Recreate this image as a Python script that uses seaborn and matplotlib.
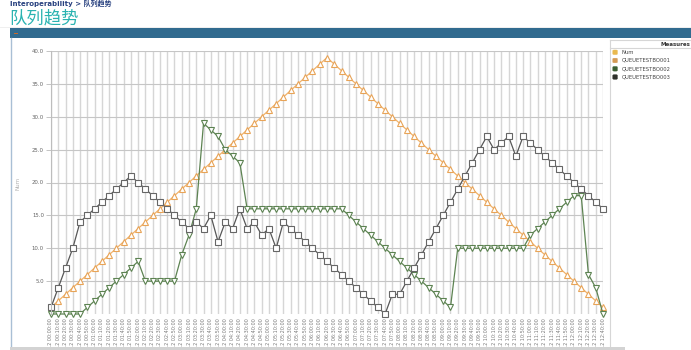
import matplotlib
matplotlib.use("Agg")
import matplotlib.pyplot as plt
import seaborn as sns
import pandas as pd
from matplotlib.patches import Rectangle, FancyBboxPatch
from matplotlib.lines import Line2D

W, H = 691, 350

# ---------------- data ----------------
n_points = 77
time_labels = [f"12 {(10 * i) // 60:02d}:{(10 * i) % 60:02d}:00" for i in range(n_points)]

q001 = [1, 2, 3, 4, 5, 6, 7, 8, 9, 10, 11, 12, 13, 14, 15, 16, 17, 18, 19, 20,
        21, 22, 23, 24, 25, 26, 27, 28, 29, 30, 31, 32, 33, 34, 35, 36, 37, 38, 39,
        38, 37, 36, 35, 34, 33, 32, 31, 30, 29, 28, 27, 26, 25, 24, 23, 22, 21, 20,
        19, 18, 17, 16, 15, 14, 13, 12, 11, 10, 9, 8, 7, 6, 5, 4, 3, 2, 1]

q002 = [0, 0, 0, 0, 0,
        1, 2, 3, 4, 5, 6, 7, 8,
        5, 5, 5, 5, 5,
        9, 12, 16, 29, 28, 27, 25, 24, 23,
        16, 16, 16, 16, 16, 16, 16, 16, 16, 16, 16, 16, 16, 16,
        15, 14, 13, 12, 11, 10, 9, 8, 7, 6, 5, 4, 3, 2, 1,
        10, 10, 10, 10, 10, 10, 10, 10, 10, 10,
        12, 13, 14, 15, 16, 17, 18, 18,
        6, 4, 0]

q003 = [1, 4, 7, 10, 14, 15, 16, 17, 18, 19, 20, 21, 20, 19, 18, 17, 16, 15, 14, 13, 14, 13, 15, 11,
        14, 13, 16, 13, 14, 12, 13, 10, 14, 13, 12, 11, 10, 9, 8, 7, 6, 5, 4, 3, 2,
        1, 0, 3, 3, 5, 7, 9, 11, 13, 15, 17, 19, 21, 23, 25, 27, 25, 26, 27, 24,
        27, 26, 25, 24, 23, 22, 21, 20, 19, 18, 17, 16]

legend_names = ["Num", "QUEUETESTBO001", "QUEUETESTBO002", "QUEUETESTBO003"]
legend_colors = ["#e9b94f", "#d49a55", "#3c5f33", "#2f312c"]

y_ticks = [5, 10, 15, 20, 25, 30, 35, 40]

# ---------------- figure ----------------
fig = plt.figure(figsize=(W / 100, H / 100), dpi=100)
fig.patch.set_facecolor("white")


def fx(px):
    return px / W


def fy(py):
    return 1 - py / H


# breadcrumb + title
fig.text(fx(10), fy(5.6), "Interoperability > 队列趋势", fontsize=5, color="#27407f",
         fontweight="bold", va="baseline", family=["DejaVu Sans", "Noto Sans CJK SC"])
fig.text(fx(9), fy(18.5), "队列趋势", fontsize=12.5, color="#2ab3b1", va="center",
         family=["Noto Sans CJK SC", "DejaVu Sans"])
fig.add_artist(Line2D([fx(0), fx(691)], [fy(26.5)] * 2, color="#ececec", lw=0.6))

# dark header bar
fig.add_artist(Rectangle((fx(10), fy(38.3)), 1 - fx(10), 10 / H, facecolor="#316b8f",
                         edgecolor="none", transform=fig.transFigure))
fig.add_artist(Rectangle((fx(14), fy(33.8)), 4 / W, 1.3 / H, facecolor="#c86b2c",
                         edgecolor="none", transform=fig.transFigure))
# left border
fig.add_artist(Line2D([fx(10.5)] * 2, [fy(38.3), 0], color="#a9bfd5", lw=1.0))

# ---------------- plot area ----------------
ax = fig.add_axes([fx(51), fy(314), (603 - 51) / W, (314 - 51) / H])
ax.set_facecolor("white")
idx = list(range(n_points))

series = [
    (q001, "#f0b26a", "#e8a458", "^", 5.0),
    (q002, "#5d8352", "#5d8352", "v", 5.0),
    (q003, "#575757", "#666666", "s", 4.0),
]
for vals, lc, mc, mk, ms in series:
    sns.lineplot(x=idx, y=vals, ax=ax, color=lc, linewidth=0.9, marker=mk,
                 markersize=ms, markerfacecolor="white", markeredgecolor=mc,
                 markeredgewidth=0.8, clip_on=False, legend=False)

ax.set_xlim(0, n_points - 1)
ax.set_ylim(0, 40)
ax.set_xticks(idx)
ax.set_xticklabels(time_labels, rotation=90, fontsize=3.5, color="#7a7a7a")
ax.set_yticks(y_ticks)
ax.set_yticklabels([f"{v:.1f}" for v in y_ticks], fontsize=3.9, color="#666666")
ax.tick_params(axis="x", length=0, pad=2.9)
ax.tick_params(axis="y", length=3.5, width=0.7, color="#c4c4c4", pad=1.5)
ax.set_axisbelow(True)
ax.grid(axis="x", color="#d6d6d6", lw=1.0)
ax.grid(axis="y", color="#c6c6c6", lw=0.8)
for s in ["top", "right", "bottom"]:
    ax.spines[s].set_visible(False)
ax.spines["left"].set_color("#bdbdbd")
ax.spines["left"].set_linewidth(0.8)
ax.set_xlabel("")
ax.set_ylabel("")
fig.text(fx(18), fy(183), "Num", rotation=90, fontsize=4, color="#b0b0b0",
         ha="center", va="center")

# ---------------- legend panel ----------------
fig.add_artist(Line2D([fx(610)] * 2, [fy(39.5), fy(348)], color="#d6d6d6", lw=0.8))
fig.add_artist(Line2D([fx(610), fx(691)], [fy(39.8)] * 2, color="#d6d6d6", lw=0.8))
fig.add_artist(Line2D([fx(610), fx(691)], [fy(47.5)] * 2, color="#d6d6d6", lw=0.8))
fig.text(fx(690), fy(44.5), "Measures", fontsize=4, color="#333333", fontweight="bold",
         va="center", ha="right")
row_y = [52.3, 60.5, 68.8, 77.0]
for name, col, yy in zip(legend_names, legend_colors, row_y):
    fig.add_artist(FancyBboxPatch((fx(612.8), fy(yy + 2.3)), 4.6 / W, 4.6 / H,
                                  boxstyle="round,pad=0,rounding_size=0.002",
                                  facecolor=col, edgecolor=col, lw=0.3,
                                  transform=fig.transFigure))
    fig.text(fx(621.7), fy(yy), name, fontsize=3.8, color="#444444", va="center", ha="left")

# bottom scroll bar
fig.add_artist(Rectangle((fx(10), 0), (625 - 10) / W, 2.6 / H, facecolor="#d3d3d3",
                         edgecolor="none", transform=fig.transFigure, zorder=10))

fig.savefig("out.png", dpi=100, facecolor="white")
